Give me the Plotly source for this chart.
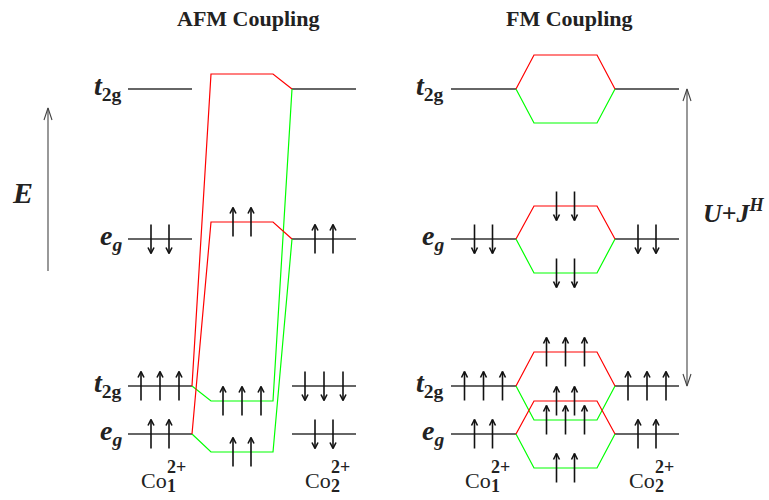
import plotly.graph_objects as go

# ---------------- data ----------------
# single-ion Co2+ levels (energy units, up = higher energy)
ion_levels = ["t2g", "eg", "t2g", "eg"]
ion_energy = [411, 261, 114, 66]

# AFM coupling: electrons on the single-ion levels (count, spin: +1 up / -1 down)
afm_co1_n = [0, 2, 3, 2]
afm_co1_spin = [0, -1, 1, 1]
afm_co2_n = [0, 2, 3, 2]
afm_co2_spin = [0, 1, -1, -1]
# AFM coupled levels: red ones join Co1 lower levels to Co2 upper levels
afm_red_energy = [426, 278]
afm_red_from = [2, 3]      # index into ion_energy (Co1 side)
afm_red_to = [0, 1]        # index into ion_energy (Co2 side)
afm_red_n = [0, 2]
afm_red_spin = [0, 1]
afm_green_energy = [99, 48]
afm_green_from = [2, 3]
afm_green_to = [0, 1]
afm_green_n = [3, 2]
afm_green_spin = [1, 1]

# FM coupling
fm_co_n = [0, 2, 3, 2]
fm_co_spin = [0, -1, 1, 1]
fm_red_energy = [445, 294, 148, 99]
fm_green_energy = [377, 227, 80, 32]
fm_red_n = [0, 2, 3, 2]
fm_green_n = [0, 2, 3, 2]
fm_spin = [0, -1, 1, 1]

# ---------------- layout constants ----------------
W, H = 769, 500
AFM_L, AFM_M, AFM_R = (128, 192), (211, 273), (292, 356)
FM_L, FM_M, FM_R = (451, 516), (534, 597), (615, 679)
RED, GREEN, BLACK = "#ff0000", "#00ff00", "#333333"
SERIF = "Liberation Serif, Times New Roman, serif"

fig = go.Figure()


def add_path(xs, ys, color, width=1.2):
    fig.add_trace(go.Scatter(x=xs, y=ys, mode="lines", hoverinfo="skip",
                             line=dict(color=color, width=width)))


arrow_x, arrow_y = [], []


def electrons(span, energy, n, spin):
    if n == 0:
        return
    c = (span[0] + span[1]) / 2.0
    sp = 19 if n == 3 else 18
    for k in range(n):
        x = c + (k - (n - 1) / 2.0) * sp
        lo, hi = energy - 14.5, energy + 14.5
        arrow_x.extend([x, x, None])
        arrow_y.extend([lo, hi, None])
        tip = hi if spin > 0 else lo
        back = tip - 6 * spin
        arrow_x.extend([x - 3, x, x + 3, None])
        arrow_y.extend([back, tip, back, None])


# ---- black single-ion levels
bx, by = [], []
for span in (AFM_L, AFM_R, FM_L, FM_R):
    for e in ion_energy:
        bx.extend([span[0], span[1], None])
        by.extend([e, e, None])
add_path(bx, by, BLACK, 1.3)

# ---- AFM coupled levels
for i, e in enumerate(afm_green_energy):
    add_path([AFM_L[1], AFM_M[0], AFM_M[1], AFM_R[0]],
             [ion_energy[afm_green_from[i]], e, e, ion_energy[afm_green_to[i]]], GREEN)
for i, e in enumerate(afm_red_energy):
    add_path([AFM_L[1], AFM_M[0], AFM_M[1], AFM_R[0]],
             [ion_energy[afm_red_from[i]], e, e, ion_energy[afm_red_to[i]]], RED)

# ---- FM coupled levels
for i, e in enumerate(fm_green_energy):
    add_path([FM_L[1], FM_M[0], FM_M[1], FM_R[0]],
             [ion_energy[i], e, e, ion_energy[i]], GREEN)
for i, e in enumerate(fm_red_energy):
    add_path([FM_L[1], FM_M[0], FM_M[1], FM_R[0]],
             [ion_energy[i], e, e, ion_energy[i]], RED)

# ---- electrons
for i, e in enumerate(ion_energy):
    electrons(AFM_L, e, afm_co1_n[i], afm_co1_spin[i])
    electrons(AFM_R, e, afm_co2_n[i], afm_co2_spin[i])
    electrons(FM_L, e, fm_co_n[i], fm_co_spin[i])
    electrons(FM_R, e, fm_co_n[i], fm_co_spin[i])
for i, e in enumerate(afm_red_energy):
    electrons(AFM_M, e, afm_red_n[i], afm_red_spin[i])
for i, e in enumerate(afm_green_energy):
    electrons(AFM_M, e, afm_green_n[i], afm_green_spin[i])
for i, e in enumerate(fm_red_energy):
    electrons(FM_M, e, fm_red_n[i], fm_spin[i])
for i, e in enumerate(fm_green_energy):
    electrons(FM_M, e, fm_green_n[i], fm_spin[i])
add_path(arrow_x, arrow_y, "#111111", 1.6)

# ---- energy axis arrow and U+J^H double arrow
ex, ey = 48, (229, 392)
add_path([ex, ex, None, ex - 4, ex, ex + 4], [ey[0], ey[1], None, ey[1] - 12, ey[1], ey[1] - 12], "#444444", 1.1)
ux, uy = 687, (ion_energy[2] + 0, ion_energy[0] - 0)
add_path([ux, ux, None, ux - 4, ux, ux + 4, None, ux - 4, ux, ux + 4],
         [uy[0], uy[1], None, uy[1] - 12, uy[1], uy[1] - 12, None, uy[0] + 12, uy[0], uy[0] + 12],
         "#444444", 1.1)

# ---------------- text ----------------
def txt(x, y, s, size, xanchor="center", color="#222222"):
    fig.add_annotation(x=x, y=y, text=s, showarrow=False, xanchor=xanchor, yanchor="middle",
                       font=dict(family=SERIF, size=size, color=color))


txt(248, 482, "<b>AFM Coupling</b>", 22)
txt(569, 482, "<b>FM Coupling</b>", 22)

level_labels = ["<b><i>t</i><sub>2g</sub></b>", "<b><i>e</i><sub><i>g</i></sub></b>"]
for i, e in enumerate(ion_energy):
    lab = level_labels[0] if ion_levels[i] == "t2g" else level_labels[1]
    txt(124, e + 2, lab, 28, xanchor="right")
    txt(446, e + 2, lab, 28, xanchor="right")

txt(22, 308, "<b><i>E</i></b>", 30)
txt(734, 289, "<b><i>U</i>+<i>J</i><sup><i>H</i></sup></b>", 26)

for cx, sub in ((160, "1"), (324, "2"), (484, "1"), (648, "2")):
    txt(cx - 21, 20, "Co", 22, xanchor="left")
    txt(cx + 5, 33, "<b>2+</b>", 18, xanchor="left")
    txt(cx + 5, 14, "<b>" + sub + "</b>", 18, xanchor="left")

fig.update_layout(
    width=W, height=H, margin=dict(l=0, r=0, t=0, b=0),
    paper_bgcolor="white", plot_bgcolor="white", showlegend=False,
    xaxis=dict(range=[0, W], visible=False, fixedrange=True),
    yaxis=dict(range=[0, H], visible=False, fixedrange=True),
)
fig.write_html("out.html", config={"displayModeBar": False},
               post_script="document.body.style.margin='0';document.body.style.overflow='hidden';")
